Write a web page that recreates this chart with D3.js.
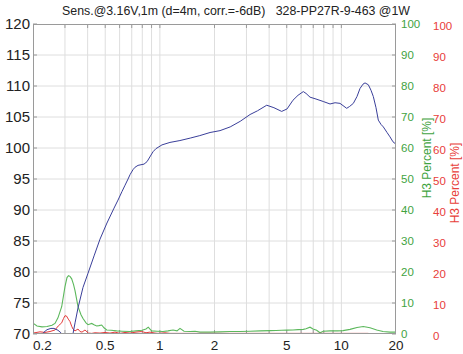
<!DOCTYPE html>
<html><head><meta charset="utf-8">
<script src="https://cdn.jsdelivr.net/npm/d3@7"></script>
<style>
body{margin:0;background:#fff}
svg{display:block}
text{font-family:"Liberation Sans",Arial,sans-serif}
</style></head>
<body><svg id="c" width="463" height="354"></svg>
<script>
// ---- data ----
const titleText = "Sens.@3.16V,1m (d=4m, corr.=-6dB)   328-PP27R-9-463 @1W";
const xTickLabels = [0.2, 0.5, 1, 2, 5, 10, 20];
const xGridTicks = [0.3,0.4,0.5,0.6,0.7,0.8,0.9,1,2,3,4,5,6,7,8,9,10];
const yLeftTicks = [70,75,80,85,90,95,100,105,110,115,120];
const yRightTicks = [0,10,20,30,40,50,60,70,80,90,100];
const rightAxisTitle = "H3 Percent [%]";

// SPL (blue), dB
const splFreq = [0.2,0.2186,0.23,0.239,0.251,0.261,0.2745,0.285,0.2925,0.304,0.32,0.332,0.341,0.354,0.377,0.402,0.434,0.468,0.511,0.559,0.588,0.619,0.643,0.668,0.685,0.711,0.73,0.758,0.787,0.818,0.85,0.887,0.917,0.952,0.977,1.027,1.137,1.29,1.47,1.66,1.89,2.145,2.44,2.77,3.14,3.45,3.88,4.25,4.69,5.02,5.41,5.77,6.17,6.39,6.72,7.25,7.95,8.66,9.23,9.83,10.7,11.1,11.64,12.19,12.67,13.16,13.5,14.08,14.57,15.0,15.52,15.98,16.54,17.03,17.85,18.53,19.25,20];
const splDb   = [68.5,69.6,70.3,70.7,70.9,70.9,70.6,70.2,69.5,67,67.5,70,71.8,74.2,77.5,79.8,82.6,85.3,87.9,90.3,91.6,93.0,94.0,95.0,95.7,96.5,96.9,97.2,97.3,97.4,97.8,98.7,99.4,99.9,100.1,100.5,100.9,101.2,101.6,102.0,102.5,102.8,103.4,104.3,105.4,106.0,106.9,106.5,105.9,106.3,107.7,108.5,109.1,108.8,108.2,107.9,107.5,107.1,107.3,107.2,106.4,106.7,107.2,108.3,109.6,110.3,110.5,110.2,109.3,108.3,106.5,104.5,103.8,103.4,102.5,101.8,101.0,100.6];

// H3 percent (green)
const h3Freq = [0.2,0.2104,0.2242,0.2389,0.2545,0.2643,0.2745,0.2878,0.3001,0.3078,0.3138,0.3198,0.3267,0.3343,0.3408,0.354,0.3677,0.3772,0.3918,0.4019,0.4212,0.4337,0.4488,0.462,0.4781,0.4923,0.5094,0.538,0.5784,0.6187,0.6846,0.7387,0.797,0.8384,0.8633,0.8821,0.9013,0.9642,1.0406,1.1087,1.1813,1.2428,1.2912,1.3584,1.4662,1.5623,1.6648,1.8904,2.145,2.4356,2.765,3.1392,3.5646,4.046,4.365,4.691,5.017,5.414,5.77,6.17,6.385,6.719,6.976,7.312,7.626,7.95,8.663,9.5,10.21,11.16,12.2,13.21,14.38,15.66,16.96,18.53,20];
const h3Pct  = [3.5,2.6,2.3,2.4,2.8,3.4,5.2,8.8,15.3,18.2,18.8,18.6,17.8,16.0,14.0,8.8,6.2,5.0,3.6,3.0,3.4,3.0,2.6,2.7,2.9,2.0,1.3,1.2,1.0,0.9,0.8,1.0,1.2,1.6,2.2,1.6,1.0,0.9,0.8,1.0,1.3,1.0,1.8,0.9,0.8,0.9,0.6,0.6,0.7,0.8,0.8,0.9,1.0,1.1,1.15,1.2,1.25,1.3,1.4,1.5,1.7,2.2,1.6,1.2,0.4,0.9,1.0,1.0,1.1,1.5,2.1,2.4,2.0,1.3,0.8,0.6,0.6];

// second distortion trace (red)
const redFreq = [0.2,0.2186,0.2329,0.2481,0.2643,0.2756,0.2878,0.2945,0.3001,0.3059,0.313,0.3198,0.3267,0.3322,0.3408,0.354,0.363,0.3724,0.3868,0.4034,0.4212,0.4392,0.468,0.4986,0.5312,0.566,0.6031,0.6426,0.6846,0.7387,0.7939,0.8387,0.8821,0.94,0.9768,1.067,1.137,1.6648,3.1392,6.0,10.0,14.08];
const redPct  = [0.3,0.7,0.5,0.8,1.3,2.6,3.6,5.0,5.9,5.8,4.8,4.0,2.5,1.6,1.0,1.6,0.8,0.6,1.3,0.3,0.2,0.4,0.3,0.5,0.3,0.6,0.2,0.5,0.3,0.6,0.8,0.4,0.6,0.3,0.2,0.4,0.2,0.2,0.2,0.2,0.2,0.2];

// ---- drawing ----
const svg = d3.select("#c");
const L = 33, R = 396, T = 24, B = 334;
const x = d3.scaleLog().domain([0.2, 20]).range([L, R]);
const y = d3.scaleLinear().domain([70, 120]).range([B, T]);
const yR = d3.scaleLinear().domain([0, 100]).range([B, T]);

const gridColor = "#dedede", frameColor = "#9a9a9a";
const blue = "#3a3f9a", green = "#5cb85c", red = "#e33b3b";
const greenText = "#3fa33f", redText = "#e8403a";

// grid
svg.append("g").selectAll("line").data(xGridTicks).join("line")
  .attr("x1", d => x(d)).attr("x2", d => x(d)).attr("y1", T).attr("y2", B)
  .attr("stroke", gridColor).attr("stroke-width", 1);
svg.append("g").selectAll("line").data(yLeftTicks.slice(1, -1)).join("line")
  .attr("x1", L).attr("x2", R).attr("y1", d => y(d)).attr("y2", d => y(d))
  .attr("stroke", gridColor).attr("stroke-width", 1);

// inward ticks
const tk = svg.append("g").attr("stroke", frameColor).attr("stroke-width", 1);
tk.selectAll(".tt").data(xGridTicks).join("line").attr("class","tt")
  .attr("x1", d => x(d)).attr("x2", d => x(d)).attr("y1", T).attr("y2", T + 4);
tk.selectAll(".tb").data(xGridTicks).join("line").attr("class","tb")
  .attr("x1", d => x(d)).attr("x2", d => x(d)).attr("y1", B).attr("y2", B - 4);
tk.selectAll(".tl").data(yLeftTicks).join("line").attr("class","tl")
  .attr("x1", L).attr("x2", L + 4).attr("y1", d => y(d)).attr("y2", d => y(d));
tk.selectAll(".tr").data(yRightTicks).join("line").attr("class","tr")
  .attr("x1", R - 4).attr("x2", R).attr("y1", d => yR(d)).attr("y2", d => yR(d));

// clip
svg.append("clipPath").attr("id", "clip").append("rect")
  .attr("x", L).attr("y", T).attr("width", R - L).attr("height", B - T);

const lineSpl = d3.line().x(d => x(d[0])).y(d => y(d[1]));
const lineR = d3.line().x(d => x(d[0])).y(d => yR(d[1]));
const plot = svg.append("g").attr("clip-path", "url(#clip)");
plot.append("path").datum(d3.zip(h3Freq, h3Pct)).attr("d", lineR)
  .attr("fill", "none").attr("stroke", green).attr("stroke-width", 1.1);
plot.append("path").datum(d3.zip(redFreq, redPct)).attr("d", lineR)
  .attr("fill", "none").attr("stroke", red).attr("stroke-width", 1);
plot.append("path").datum(d3.zip(splFreq, splDb)).attr("d", lineSpl)
  .attr("fill", "none").attr("stroke", blue).attr("stroke-width", 1);

// frame
svg.append("rect").attr("x", L + 0.5).attr("y", T + 0.5)
  .attr("width", R - L - 1).attr("height", B - T - 1)
  .attr("fill", "none").attr("stroke", frameColor).attr("stroke-width", 1);

// left labels
svg.append("g").selectAll("text").data(yLeftTicks).join("text")
  .attr("x", 30).attr("y", d => y(d)).attr("dy", "0.36em")
  .attr("text-anchor", "end").attr("font-size", 15).attr("fill", "#222")
  .text(d => d);

// bottom labels
svg.append("g").selectAll("text").data(xTickLabels).join("text")
  .attr("x", (d, i) => i === 0 ? L : x(d)).attr("y", 350)
  .attr("text-anchor", (d, i) => i === 0 ? "start" : "middle")
  .attr("font-size", 13.5).attr("fill", "#222")
  .text(d => d);

// right green labels
svg.append("g").selectAll("text").data(yRightTicks).join("text")
  .attr("x", 401).attr("y", d => yR(d)).attr("dy", "0.36em")
  .attr("font-size", 11.5).attr("fill", greenText).text(d => d);
// right red labels
svg.append("g").selectAll("text").data(yRightTicks).join("text")
  .attr("x", 433).attr("y", d => yR(d) + 2).attr("dy", "0.36em")
  .attr("font-size", 11.5).attr("fill", redText).text(d => d);

// axis titles
svg.append("text").attr("transform", "translate(431,158) rotate(-90)")
  .attr("text-anchor", "middle").attr("font-size", 12).attr("fill", greenText)
  .text(rightAxisTitle);
svg.append("text").attr("transform", "translate(459,183) rotate(-90)")
  .attr("text-anchor", "middle").attr("font-size", 12).attr("fill", redText)
  .text(rightAxisTitle);

// title
svg.append("text").attr("x", 62).attr("y", 15)
  .attr("font-size", 12.5).attr("fill", "#222")
  .attr("textLength", 348).attr("lengthAdjust", "spacingAndGlyphs")
  .style("white-space", "pre")
  .text(titleText);
</script></body></html>
